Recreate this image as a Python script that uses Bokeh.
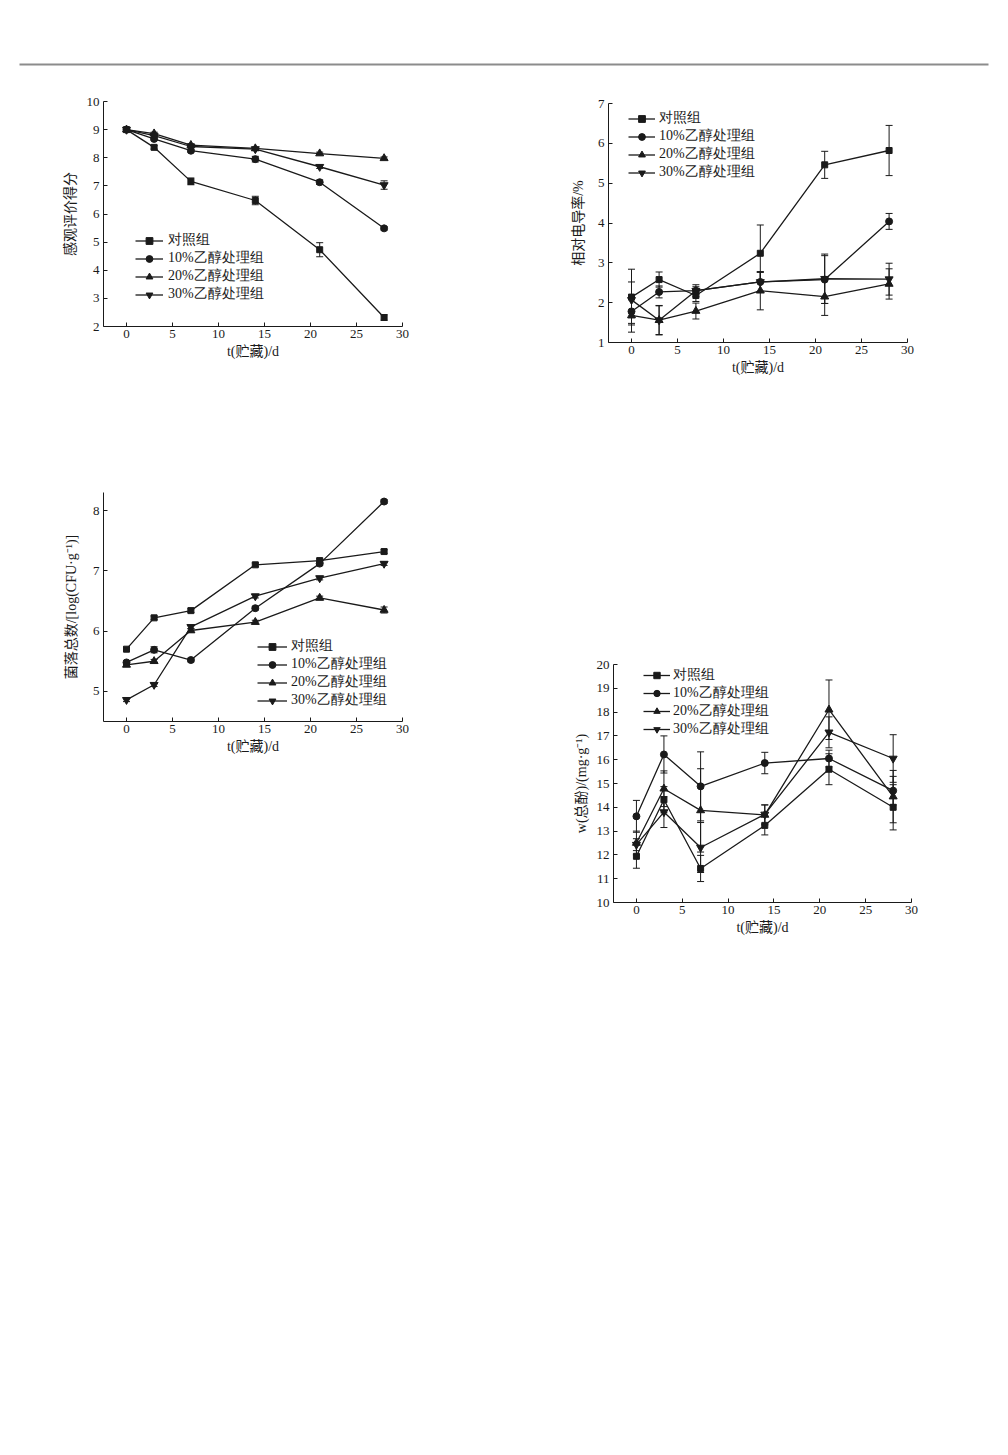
from bokeh.plotting import figure
from bokeh.models import (ColumnDataSource, Whisker, TeeHead, Legend, LegendItem,
                          FixedTicker, Range1d, Spacer)
from bokeh.layouts import column, row
from bokeh.embed import file_html
from bokeh.resources import INLINE

# ---------------- data ----------------
days = [0, 3, 7, 14, 21, 28]
series_names = ["对照组", "10%乙醇处理组", "20%乙醇处理组", "30%乙醇处理组"]
series_markers = ["square", "circle", "triangle", "inverted_triangle"]
x_ticks = [0, 5, 10, 15, 20, 25, 30]

# Panel 1: sensory score
sens_ctrl = [9.0, 8.37, 7.16, 6.48, 4.73, 2.32]
sens_e10 = [9.0, 8.67, 8.25, 7.95, 7.13, 5.49]
sens_e20 = [9.0, 8.86, 8.45, 8.33, 8.15, 7.98]
sens_e30 = [9.0, 8.79, 8.40, 8.31, 7.68, 7.03]
sens_err_ctrl = [0.05, 0.06, 0.12, 0.15, 0.25, 0.10]
sens_err_e10 = [0.04, 0.05, 0.05, 0.10, 0.08, 0.06]
sens_err_e20 = [0.04, 0.05, 0.05, 0.05, 0.05, 0.05]
sens_err_e30 = [0.04, 0.05, 0.05, 0.05, 0.06, 0.15]
sens_yticks = [2, 3, 4, 5, 6, 7, 8, 9, 10]

# Panel 2: relative conductivity
cond_ctrl = [2.14, 2.58, 2.18, 3.24, 5.46, 5.82]
cond_e10 = [1.78, 2.27, 2.30, 2.52, 2.58, 4.04]
cond_e20 = [1.68, 1.56, 1.79, 2.30, 2.15, 2.47]
cond_e30 = [2.07, 1.56, 2.30, 2.52, 2.60, 2.59]
cond_err_ctrl = [0.70, 0.19, 0.15, 0.71, 0.34, 0.63]
cond_err_e10 = [0.30, 0.15, 0.10, 0.25, 0.60, 0.20]
cond_err_e20 = [0.42, 0.36, 0.20, 0.48, 0.47, 0.38]
cond_err_e30 = [0.45, 0.37, 0.15, 0.24, 0.62, 0.40]
cond_yticks = [1, 2, 3, 4, 5, 6, 7]

# Panel 3: total colony count
col_ctrl = [5.70, 6.22, 6.34, 7.10, 7.17, 7.32]
col_e10 = [5.48, 5.69, 5.52, 6.38, 7.12, 8.15]
col_e20 = [5.44, 5.50, 6.01, 6.15, 6.55, 6.35]
col_e30 = [4.86, 5.11, 6.07, 6.58, 6.88, 7.12]
col_err_ctrl = [0.03, 0.03, 0.03, 0.03, 0.03, 0.03]
col_err_e10 = [0.03, 0.05, 0.03, 0.03, 0.03, 0.03]
col_err_e20 = [0.03, 0.03, 0.03, 0.03, 0.03, 0.05]
col_err_e30 = [0.03, 0.03, 0.03, 0.03, 0.03, 0.03]
col_yticks = [5, 6, 7, 8]

# Panel 4: total phenols
phen_ctrl = [11.94, 14.32, 11.43, 13.24, 15.60, 14.00]
phen_e10 = [13.62, 16.22, 14.88, 15.86, 16.05, 14.70]
phen_e20 = [12.50, 14.78, 13.87, 13.68, 18.10, 14.45]
phen_e30 = [12.43, 13.80, 12.31, 13.70, 17.15, 16.05]
phen_err_ctrl = [0.50, 0.55, 0.55, 0.40, 0.65, 0.95]
phen_err_e10 = [0.67, 0.78, 1.45, 0.45, 0.35, 0.60]
phen_err_e20 = [0.50, 0.75, 1.75, 0.42, 1.25, 1.10]
phen_err_e30 = [0.25, 0.65, 1.05, 0.40, 0.65, 1.00]
phen_yticks = [10, 11, 12, 13, 14, 15, 16, 17, 18, 19, 20]

SERIF = "Liberation Serif, Noto Sans CJK SC"
LEGEND_FONT = "Liberation Serif"
INK = "#1a1a1a"
marker_sizes = {"square": 6, "circle": 7, "triangle": 8, "inverted_triangle": 8}


def make_panel(values, errs, yr, yticks, ylabel, width, height, borders,
               ylabel_standoff, legend_loc, glyph_w, row_h, standoff,
               legend_font_size="14px"):
    left, right, top, bottom = borders
    p = figure(width=width, height=height, x_range=Range1d(-2.5, 30),
               y_range=Range1d(*yr), output_backend="svg", toolbar_location=None,
               min_border_left=left, min_border_right=right,
               min_border_top=top, min_border_bottom=bottom)
    p.outline_line_color = None
    p.grid.visible = False
    p.background_fill_color = "white"
    p.border_fill_color = "white"

    for ax in (p.xaxis, p.yaxis):
        ax.axis_line_color = INK
        ax.axis_line_width = 1
        ax.major_tick_line_color = INK
        ax.major_tick_in = 4
        ax.major_tick_out = 0
        ax.minor_tick_in = 0
        ax.minor_tick_out = 0
        ax.major_label_text_font = SERIF
        ax.major_label_text_font_size = "13px"
        ax.major_label_text_color = INK
        ax.axis_label_text_font = SERIF
        ax.axis_label_text_font_size = "14px"
        ax.axis_label_text_font_style = "normal"
        ax.axis_label_text_color = INK
    p.xaxis.ticker = FixedTicker(ticks=x_ticks, minor_ticks=[])
    p.yaxis.ticker = FixedTicker(ticks=yticks, minor_ticks=[])
    p.xaxis.major_label_standoff = 3
    p.yaxis.major_label_standoff = 4
    p.xaxis.axis_label = "t(贮藏)/d"
    p.xaxis.axis_label_standoff = 3
    p.yaxis.axis_label = ylabel
    p.yaxis.axis_label_standoff = ylabel_standoff

    items = []
    for name, mk, vals, err in zip(series_names, series_markers, values, errs):
        src = ColumnDataSource(dict(x=days, y=vals,
                                    upper=[v + e for v, e in zip(vals, err)],
                                    lower=[v - e for v, e in zip(vals, err)]))
        w = Whisker(base="x", upper="upper", lower="lower", source=src,
                    line_color=INK, line_width=1,
                    upper_head=TeeHead(size=7, line_color=INK, line_width=1),
                    lower_head=TeeHead(size=7, line_color=INK, line_width=1))
        p.add_layout(w)
        lr = p.line("x", "y", source=src, line_color=INK, line_width=1.3)
        sr = p.scatter("x", "y", source=src, marker=mk, size=marker_sizes[mk],
                       fill_color=INK, line_color=INK)
        items.append(LegendItem(label=name, renderers=[lr, sr]))

    lg = Legend(items=items, location=legend_loc, border_line_color=None,
                background_fill_alpha=0, padding=0, margin=0, spacing=0,
                glyph_width=glyph_w, glyph_height=row_h, label_height=row_h,
                label_standoff=standoff, label_text_font=LEGEND_FONT,
                label_text_font_size=legend_font_size, label_text_color=INK)
    p.add_layout(lg)
    return p


# horizontal rule at the top of the page
rule = figure(width=1008, height=80, output_backend="svg", toolbar_location=None,
              x_axis_location=None, y_axis_location=None,
              x_range=Range1d(0, 1), y_range=Range1d(0, 1),
              min_border_left=19, min_border_right=20,
              min_border_top=63, min_border_bottom=15)
rule.grid.visible = False
rule.outline_line_color = None
rule.background_fill_color = "#8c8c8c"
rule.border_fill_color = "white"

f1 = make_panel([sens_ctrl, sens_e10, sens_e20, sens_e30],
                [sens_err_ctrl, sens_err_e10, sens_err_e20, sens_err_e30],
                (2, 10), sens_yticks, "感观评价得分", 504, 310,
                (103, 102, 21, 64), 6, (32, 23), 28, 17, 5)
f3 = make_panel([col_ctrl, col_e10, col_e20, col_e30],
                [col_err_ctrl, col_err_e10, col_err_e20, col_err_e30],
                (4.5, 8.3), col_yticks, "菌落总数/[log(CFU·g⁻¹)]", 504, 390,
                (103, 101, 102, 59), 11, (154, 12), 30, 17, 4)
f2 = make_panel([cond_ctrl, cond_e10, cond_e20, cond_e30],
                [cond_err_ctrl, cond_err_e10, cond_err_e20, cond_err_e30],
                (1, 7), cond_yticks, "相对电导率/%", 504, 310,
                (104, 101, 23, 48), 9, (20, 161), 27, 17, 4)
f4 = make_panel([phen_ctrl, phen_e10, phen_e20, phen_e30],
                [phen_err_ctrl, phen_err_e10, phen_err_e20, phen_err_e30],
                (10, 20), phen_yticks, "w(总酚)/(mg·g⁻¹)", 499, 560,
                (104, 97, 274, 48), 5, (30, 164), 27, 16, 3, "14px")

layout = column(rule, row(column(f1, f3), column(f2, row(Spacer(width=5, height=560), f4))))
open("out.html", "w").write(file_html(layout, INLINE))
